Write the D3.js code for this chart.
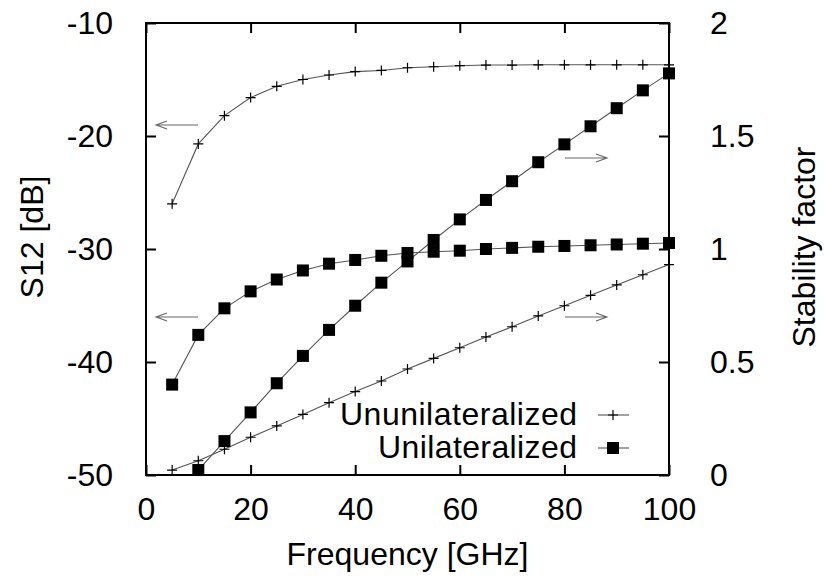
<!DOCTYPE html>
<html>
<head>
<meta charset="utf-8">
<script src="https://cdn.jsdelivr.net/npm/d3@7"></script>
<style>
  body { margin: 0; background: #fff; }
  svg { font-family: "Liberation Sans", Arial, sans-serif; }
</style>
</head>
<body>
<svg id="chart" width="824" height="581"></svg>
<script>
// data
const freq = [5, 10, 15, 20, 25, 30, 35, 40, 45, 50, 55, 60, 65, 70, 75, 80, 85, 90, 95, 100];
const s12_ununilateralized = [-26.0, -20.7, -18.2, -16.6, -15.6, -15.0, -14.6, -14.3, -14.2, -13.96,
    -13.87, -13.78, -13.72, -13.72, -13.7, -13.7, -13.7, -13.7, -13.7, -13.7];
const s12_unilateralized = [-42.0, -37.6, -35.25, -33.75, -32.7, -31.9, -31.3, -30.97, -30.6, -30.35,
    -30.24, -30.15, -30.0, -29.9, -29.8, -29.73, -29.67, -29.6, -29.53, -29.47];
const k_ununilateralized = [0.022, 0.063, 0.114, 0.167, 0.217, 0.268, 0.32, 0.369, 0.416, 0.469,
    0.516, 0.563, 0.611, 0.656, 0.704, 0.749, 0.795, 0.841, 0.886, 0.931];
const k_freq = [10, 15, 20, 25, 30, 35, 40, 45, 50, 55, 60, 65, 70, 75, 80, 85, 90, 95, 100];
const k_unilateralized = [0.022, 0.150, 0.277, 0.406, 0.527, 0.642, 0.749, 0.851, 0.945,
    1.04, 1.131, 1.217, 1.300, 1.384, 1.463, 1.543, 1.623, 1.702, 1.777];
const x_ticks = [0, 20, 40, 60, 80, 100];
const y_left_ticks = [-50, -40, -30, -20, -10];
const y_right_ticks = [0, 0.5, 1, 1.5, 2];
const legend_labels = ["Ununilateralized", "Unilateralized"];

const margin = { top: 23, right: 155, bottom: 106, left: 146 };
const svg = d3.select("#chart");
const width = 824 - margin.left - margin.right;
const height = 581 - margin.top - margin.bottom;

const x_scale = d3.scaleLinear().domain([0, 100]).range([0, width]);
const y_left = d3.scaleLinear().domain([-50, -10]).range([height, 0]);
const y_right = d3.scaleLinear().domain([0, 2]).range([height, 0]);

const g = svg.append("g").attr("transform", `translate(${margin.left}, ${margin.top})`);

const font_size = 32;
const tick_len = 10;
const plain = (d) => String(d); // keep ascii hyphen like the original

// axes (inward ticks, gnuplot style)
const styleAxis = (sel) => {
    sel.select(".domain").remove();
    sel.selectAll(".tick line").attr("stroke", "#000").attr("stroke-width", 2);
    sel.selectAll(".tick text").attr("font-size", font_size).attr("fill", "#000");
};

g.append("g")
    .attr("transform", `translate(0, ${height})`)
    .call(d3.axisBottom(x_scale).tickValues(x_ticks).tickFormat(plain)
        .tickSizeInner(-tick_len).tickSizeOuter(0).tickPadding(22))
    .call(styleAxis);
g.append("g")
    .call(d3.axisTop(x_scale).tickValues(x_ticks).tickSizeInner(-tick_len).tickSizeOuter(0).tickFormat(""))
    .call(styleAxis);
g.append("g")
    .call(d3.axisLeft(y_left).tickValues(y_left_ticks).tickFormat(plain)
        .tickSizeInner(-tick_len).tickSizeOuter(0).tickPadding(33))
    .call(styleAxis);
g.append("g")
    .attr("transform", `translate(${width}, 0)`)
    .call(d3.axisRight(y_right).tickValues(y_right_ticks).tickFormat(plain)
        .tickSizeInner(-tick_len).tickSizeOuter(0).tickPadding(41))
    .call(styleAxis);

g.append("rect")
    .attr("width", width).attr("height", height)
    .attr("fill", "none").attr("stroke", "#000").attr("stroke-width", 2);

// axis labels
svg.append("text")
    .attr("x", margin.left + width / 2).attr("y", 565)
    .attr("text-anchor", "middle").attr("font-size", font_size)
    .text("Frequency [GHz]");
svg.append("text")
    .attr("transform", "translate(43, 237) rotate(-90)")
    .attr("text-anchor", "middle").attr("font-size", font_size)
    .text("S12 [dB]");
svg.append("text")
    .attr("transform", "translate(815, 247) rotate(-90)")
    .attr("text-anchor", "middle").attr("font-size", font_size)
    .text("Stability factor");

// series
const line_color = "#555";
const plus = (sel, cx, cy) => {
    sel.append("path")
        .attr("d", `M${cx - 5},${cy}H${cx + 5}M${cx},${cy - 5}V${cy + 5}`)
        .attr("stroke", "#000").attr("stroke-width", 1.2).attr("fill", "none");
};
const square = (sel, cx, cy) => {
    sel.append("rect")
        .attr("x", cx - 6).attr("y", cy - 6)
        .attr("width", 12).attr("height", 12)
        .attr("fill", "#000");
};

function drawSeries(xs, ys, y_scale, marker) {
    const pts = xs.map((f, i) => ({ f: f, v: ys[i] }));
    const line = d3.line()
        .x((d) => x_scale(d.f))
        .y((d) => y_scale(d.v));
    g.append("path")
        .datum(pts)
        .attr("d", line)
        .attr("fill", "none")
        .attr("stroke", line_color)
        .attr("stroke-width", 1.1);
    const mg = g.append("g");
    pts.forEach((d) => marker(mg, x_scale(d.f), y_scale(d.v)));
}

drawSeries(freq, s12_ununilateralized, y_left, plus);
drawSeries(freq, s12_unilateralized, y_left, square);
drawSeries(freq, k_ununilateralized, y_right, plus);
drawSeries(k_freq, k_unilateralized, y_right, square);

// arrows pointing to the axis each curve belongs to
function arrow(x1, x2, y) {
    const dir = Math.sign(x2 - x1);
    const p = `M${x1},${y}H${x2}M${x2 - dir * 11},${y - 4}L${x2},${y}L${x2 - dir * 11},${y + 4}`;
    svg.append("path").attr("d", p)
        .attr("fill", "none").attr("stroke", "#666").attr("stroke-width", 1.1);
}
arrow(198, 156, 125);
arrow(198, 156, 317);
arrow(565, 607, 158);
arrow(565, 607, 317);

// legend
const legend_y = [425, 458];
const legend_len = [237, 199];
const legend_marks = [plus, square];
legend_labels.forEach((lab, i) => {
    svg.append("text")
        .attr("x", 577).attr("y", legend_y[i])
        .attr("text-anchor", "end").attr("font-size", font_size)
        .attr("textLength", legend_len[i])
        .text(lab);
    const ly = legend_y[i] - 10;
    svg.append("path")
        .attr("d", `M598,${ly}H629`)
        .attr("stroke", line_color).attr("stroke-width", 1.1);
    legend_marks[i](svg, 613, ly);
});
</script>
</body>
</html>
